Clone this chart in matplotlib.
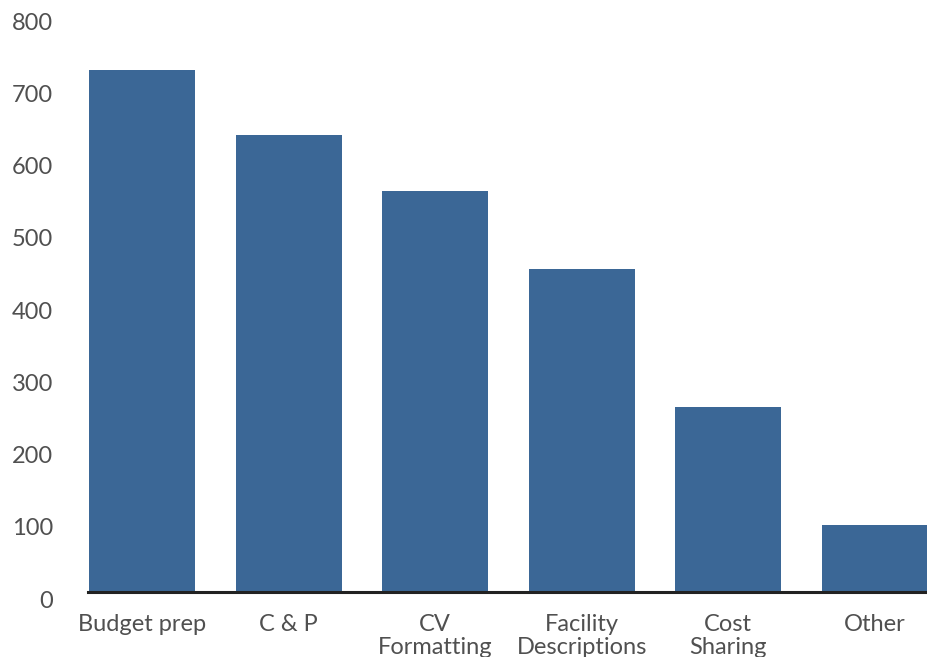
import matplotlib.pyplot as plt
import matplotlib.transforms as mtransforms
import numpy as np

# Datos del gráfico
categorias = ['Budget prep', 'C & P', 'CV\nFormatting', 'Facility\nDescriptions',
              'Cost\nSharing', 'Other']
valores = [723, 633, 555, 447, 256, 93]
ticks_y = [0, 100, 200, 300, 400, 500, 600, 700, 800]

color_barra = '#3b6796'
color_texto = '#505050'

plt.rcParams['font.family'] = ['Lato', 'DejaVu Sans']

fig = plt.figure(figsize=(9.27, 6.57), dpi=100)
ax = fig.add_axes([88 / 927, 65 / 657, 1 - 88 / 927, 578 / 657])

x = np.arange(len(categorias))
ax.bar(x, valores, width=0.723, color=color_barra, zorder=2)

ax.set_xlim(-0.368, 5.355)
ax.set_ylim(0, 800)
ax.set_yticks(ticks_y)
ax.set_yticklabels([str(t) for t in ticks_y])
ax.set_xticks(x)
ax.set_xticklabels(categorias, linespacing=1.12)

# Ejes: solo la línea base
for lado in ['top', 'right', 'left']:
    ax.spines[lado].set_visible(False)
ax.spines['bottom'].set_color('#222222')
ax.spines['bottom'].set_linewidth(2.2)
ax.spines['bottom'].set_zorder(3)

ax.tick_params(axis='both', length=0, labelsize=17, colors=color_texto)
ax.tick_params(axis='y', pad=25)
ax.tick_params(axis='x', pad=16)

# Bajar un poco las etiquetas del eje y
desplazamiento = mtransforms.ScaledTranslation(0, -7 / 100, fig.dpi_scale_trans)
for etiqueta in ax.get_yticklabels():
    etiqueta.set_transform(etiqueta.get_transform() + desplazamiento)

plt.savefig('out.png', dpi=100)
